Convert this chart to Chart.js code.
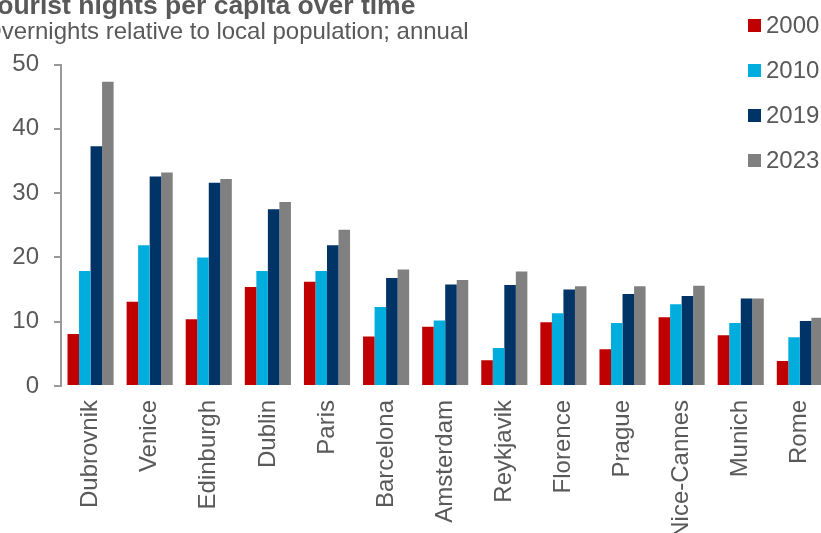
<!DOCTYPE html>
<html>
<head>
<meta charset="utf-8">
<script src="https://cdn.jsdelivr.net/npm/chart.js@4"></script>
<style>
  html, body { margin: 0; padding: 0; overflow: hidden; background: #fff; width: 821px; height: 533px; }
  #wrap { position: absolute; left: -17px; top: -30px; width: 860px; height: 576px; }
</style>
</head>
<body>
<div id="wrap"><canvas id="graphique"></canvas></div>
<script>
const villes = ["Dubrovnik", "Venice", "Edinburgh", "Dublin", "Paris", "Barcelona", "Amsterdam",
    "Reykjavik", "Florence", "Prague", "Nice-Cannes", "Munich", "Rome"]
const annees = ["2000", "2010", "2019", "2023"]
const nuits2000 = [8.1, 13.1, 10.4, 15.4, 16.2, 7.7, 9.2, 4.0, 9.9, 5.7, 10.7, 7.9, 3.9]
const nuits2010 = [17.9, 21.9, 20.0, 17.9, 17.9, 12.3, 10.2, 5.9, 11.3, 9.8, 12.7, 9.8, 7.6]
const nuits2019 = [37.3, 32.6, 31.6, 27.5, 21.9, 16.8, 15.8, 15.7, 15.0, 14.3, 14.0, 13.6, 10.1]
const nuits2023 = [47.3, 33.2, 32.2, 28.6, 24.3, 18.1, 16.5, 17.8, 15.5, 15.5, 15.6, 13.6, 10.6]
const couleurs = ["#C00000", "#00ADDC", "#003366", "#808080"]

Chart.defaults.font.family = "'Liberation Sans', Arial, sans-serif"
Chart.defaults.color = "#595959"

// Legende dessinee a la main, par dessus la zone du graphique
const legendeCarree = {
    id: "legendeCarree",
    afterDraw(chart, args, opts) {
        const ctx = chart.ctx
        ctx.save()
        ctx.font = "24px 'Liberation Sans', Arial, sans-serif"
        ctx.textBaseline = "middle"
        ctx.textAlign = "left"
        chart.data.datasets.forEach((ds, i) => {
            const y = opts.y + i * opts.pas
            ctx.fillStyle = ds.backgroundColor
            ctx.fillRect(opts.x, y - 6.5, 13, 13)
            ctx.fillStyle = "#595959"
            ctx.fillText(ds.label, opts.x + 18, y + 1)
        })
        ctx.restore()
    }
}

const series = [nuits2000, nuits2010, nuits2019, nuits2023]

const data = {
    labels: villes,
    datasets: annees.map((an, i) => ({
        label: an,
        data: series[i],
        backgroundColor: couleurs[i],
        borderWidth: 0,
        categoryPercentage: 0.78,
        barPercentage: 1.0
    }))
}

const config = {
    type: "bar",
    data: data,
    options: {
        responsive: true,
        maintainAspectRatio: false,
        animation: false,
        layout: { padding: { left: 0, right: 9, top: 0, bottom: 0 } },
        plugins: {
            legend: { display: false },
            tooltip: { enabled: false },
            title: {
                display: true,
                text: "Tourist nights per capita over time",
                align: "start",
                color: "#595959",
                font: { size: 26.5, weight: "bold", lineHeight: 1.0 },
                padding: { top: 23.5, bottom: 0 }
            },
            subtitle: {
                display: true,
                text: "Overnights relative to local population; annual",
                align: "start",
                color: "#595959",
                font: { size: 24, lineHeight: 1.0 },
                padding: { top: 0.5, bottom: 20 }
            },
            legendeCarree: { x: 765, y: 55.5, pas: 45 }
        },
        scales: {
            x: {
                grid: { display: false, drawTicks: false },
                border: { display: false },
                ticks: {
                    minRotation: 90,
                    maxRotation: 90,
                    padding: 14,
                    font: { size: 24 },
                    color: "#595959"
                },
                afterFit(scale) { scale.height = 160 }
            },
            y: {
                min: 0,
                max: 50,
                grid: {
                    drawOnChartArea: false,
                    drawTicks: true,
                    tickLength: 7,
                    color: "#999999",
                    lineWidth: 2
                },
                border: { display: true, color: "#999999", width: 2 },
                ticks: {
                    stepSize: 10,
                    padding: 15,
                    font: { size: 24 },
                    color: "#595959"
                },
                afterFit(scale) { scale.width = 78 }
            }
        }
    },
    plugins: [legendeCarree]
}

new Chart(document.querySelector("#graphique"), config)
</script>
</body>
</html>
